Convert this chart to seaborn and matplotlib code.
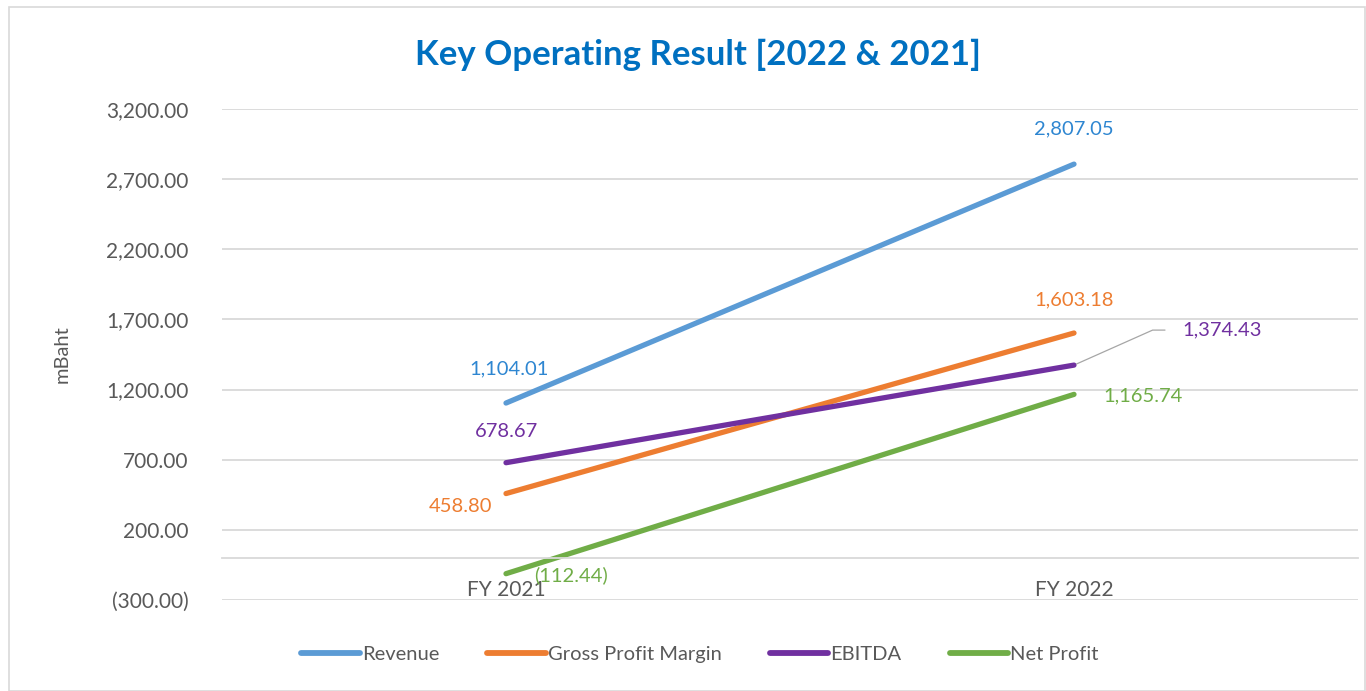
import matplotlib
matplotlib.use("Agg")
import matplotlib.pyplot as plt
import seaborn as sns
import pandas as pd
from matplotlib.patches import Rectangle

years = ["FY 2021", "FY 2022"]
series_names = ["Revenue", "Gross Profit Margin", "EBITDA", "Net Profit"]
revenue = [1104.01, 2807.05]
gross_profit = [458.80, 1603.18]
ebitda = [678.67, 1374.43]
net_profit = [-112.44, 1165.74]
yticks = [-300, 200, 700, 1200, 1700, 2200, 2700, 3200]

line_colors = ["#5B9BD5", "#ED7D31", "#7030A0", "#70AD47"]
label_colors = ["#2E86D1", "#ED7D31", "#7030A0", "#70AD47"]

rows = []
for name, vals in zip(series_names, [revenue, gross_profit, ebitda, net_profit]):
    for i, v in enumerate(vals):
        rows.append({"x": i, "year": years[i], "value": v, "series": name})
df = pd.DataFrame(rows)

sns.set_theme(style="white")
FONT = ["Lato", "DejaVu Sans"]
plt.rcParams["font.family"] = FONT

fig = plt.figure(figsize=(13.66, 6.91), dpi=100)
ax = fig.add_axes([222/1366, 1-600/691, (1358-222)/1366, (600-109)/691])

sns.lineplot(data=df, x="x", y="value", hue="series", hue_order=series_names,
             palette=line_colors, linewidth=3.8, ax=ax, legend=True,
             solid_capstyle="round")

for s in ["top", "right", "left"]:
    ax.spines[s].set_visible(False)
ax.spines["bottom"].set_position(("data", 0))
ax.spines["bottom"].set_color("#D9D9D9")
ax.spines["bottom"].set_linewidth(1.3)

ax.set_xlim(-0.5, 1.5)
ax.set_ylim(-300, 3200)
ax.set_yticks(yticks)

def fmt(v):
    s = f"{abs(v):,.2f}"
    return f"({s})" if v < 0 else s

ax.set_yticklabels([fmt(v) for v in yticks], color="#595959", fontsize=15)
ax.set_xticks([0, 1])
ax.set_xticklabels(years, color="#595959", fontsize=15)
ax.tick_params(axis="y", length=0, pad=24)
ax.tick_params(axis="x", length=0, pad=16)

ax.yaxis.grid(True, color="#D9D9D9", linewidth=1.3)
ax.set_axisbelow(True)
ax.set_xlabel("")
ax.set_ylabel("mBaht", color="#595959", fontsize=14.5, labelpad=26)

# data labels (offsets in pixels relative to data points)
offsets = {
    "Revenue": [((3, 34), "center"), ((0, 35), "center")],
    "Gross Profit Margin": [((-45, -13), "center"), ((0, 33), "center")],
    "EBITDA": [((0, 31), "center"), ((108, 35), "left")],
    "Net Profit": [((28, -2), "left"), ((29, -1), "left")],
}
for name, vals, col in zip(series_names, [revenue, gross_profit, ebitda, net_profit], label_colors):
    for i, v in enumerate(vals):
        (dx, dy), ha = offsets[name][i]
        ax.annotate(fmt(v), xy=(i, v), xytext=(dx, dy), textcoords="offset pixels",
                    ha=ha, va="center", color=col, fontsize=14.5)

# leader line for EBITDA FY2022 label
ax.annotate("", xy=(1, ebitda[1]), xytext=(91, 35), textcoords="offset pixels",
            arrowprops=dict(arrowstyle="-", color="#A6A6A6", lw=0.9,
                            shrinkA=0, shrinkB=2,
                            connectionstyle="angle,angleA=0,angleB=24,rad=0"))

# legend
handles, labels = ax.get_legend_handles_labels()
ax.legend_.remove()
for h in handles:
    h.set_linewidth(4.2)
    h.set_solid_capstyle("round")
fig.legend(handles, labels, loc="center", bbox_to_anchor=(700/1366, 1-654/691),
           ncol=4, frameon=False, fontsize=14.5, handlelength=2.9,
           handletextpad=0.1, columnspacing=2.4, labelcolor="#595959")

fig.suptitle("Key Operating Result [2022 & 2021]", x=698/1366, y=1-55/691,
             va="center", color="#0070C0", fontsize=25, fontweight="bold")

fig.patches.append(Rectangle((9/1366, 0), 1 - 9/1366 - 0.001, 1 - 7/691,
                             transform=fig.transFigure, fill=False,
                             edgecolor="#D9D9D9", linewidth=1.2))

fig.savefig("out.png", dpi=100, facecolor="white")
